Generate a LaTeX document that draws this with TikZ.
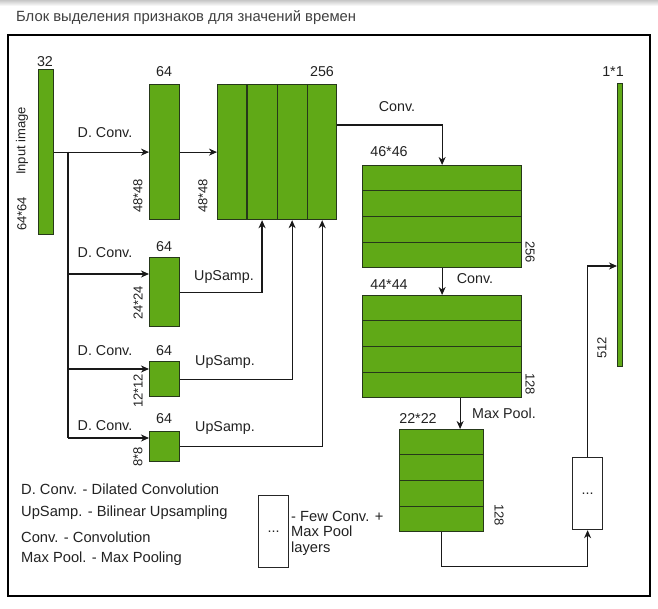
\documentclass[tikz,border=0pt]{standalone}
\usepackage{fontspec}
\setmainfont{Liberation Sans}
\usetikzlibrary{calc,arrows.meta}
\definecolor{gfill}{HTML}{60A917}
\definecolor{gline}{HTML}{26381A}
\definecolor{txt}{HTML}{222222}
\tikzset{
  blk/.style={draw=gline, fill=gfill, line width=1.2pt, inner sep=0pt, anchor=north west},
  dvd/.style={draw=gline, line width=1.2pt},
  lbl/.style={text=txt, inner sep=0pt, font=\fontsize{14.3}{16}\selectfont},
  leg/.style={lbl, font=\fontsize{14.7}{16}\selectfont},
  rlbl/.style={lbl, rotate=90, font=\fontsize{13}{15}\selectfont},
  clbl/.style={lbl, rotate=-90, font=\fontsize{13}{15}\selectfont},
  conn/.style={draw=black!90, line width=1.2pt},
  arr/.style={conn, -{Stealth[length=8pt,width=7pt,inset=2.5pt]}},
  wbox/.style={draw=black!85, fill=white, line width=1.2pt, inner sep=0pt, anchor=north west}
}
\begin{document}
\begin{tikzpicture}[x=1pt,y=-1pt]
\useasboundingbox (0,0) rectangle (658,608);
\fill[white] (0,0) rectangle (658,608);
\shade[top color=black!22, bottom color=white] (0,0) rectangle (658,6);
% title
\node[lbl, anchor=west, text=black!75, font=\fontsize{14.8}{16}\selectfont] (title) at (16,18) {Блок выделения признаков для значений времен};
% frame
\draw[line width=2pt] (8,35) rectangle (650,596);

% blocks
\node[blk, minimum width=15pt, minimum height=165pt] (inp) at (38,69) {};
\node[blk, minimum width=30pt, minimum height=135pt] (b64) at (149,84) {};
\node[blk, minimum width=119pt, minimum height=135pt] (b256) at (217,84) {};
\foreach \f in {0.25,0.5,0.75}
  \draw[dvd] ($(b256.north west)!\f!(b256.north east)$) -- ($(b256.south west)!\f!(b256.south east)$);
\node[blk, minimum width=30pt, minimum height=69pt] (b24) at (149,257) {};
\node[blk, minimum width=30pt, minimum height=35pt] (b12) at (149,361) {};
\node[blk, minimum width=30pt, minimum height=30pt] (b8) at (149,431) {};

\node[blk, minimum width=159pt, minimum height=102pt] (b46) at (362,165) {};
\foreach \f in {0.25,0.5,0.75}
  \draw[dvd] ($(b46.north west)!\f!(b46.south west)$) -- ($(b46.north east)!\f!(b46.south east)$);
\node[blk, minimum width=159pt, minimum height=102pt] (b44) at (362,295) {};
\foreach \f in {0.25,0.5,0.75}
  \draw[dvd] ($(b44.north west)!\f!(b44.south west)$) -- ($(b44.north east)!\f!(b44.south east)$);
\node[blk, minimum width=84pt, minimum height=102pt] (b22) at (399,429) {};
\foreach \f in {0.25,0.5,0.75}
  \draw[dvd] ($(b22.north west)!\f!(b22.south west)$) -- ($(b22.north east)!\f!(b22.south east)$);

\node[blk, minimum width=5pt, minimum height=283pt] (bar) at (617,83) {};
\node[wbox, minimum width=30pt, minimum height=72pt] (dots) at (572,457) {};
\node[lbl] at (dots.center) {...};

% connectors
\coordinate (br) at (68,151.5);
\coordinate (j2) at (68,274);
\coordinate (j3) at (68,369);
\coordinate (j4) at (68,438);
\draw[arr] (inp.east) -- (b64.west);
\draw[conn] (br) -- (j4);
\draw[arr] (j2) -- (j2 -| b24.west);
\draw[arr] (j3) -- (j3 -| b12.west);
\draw[arr] (j4) -- (j4 -| b8.west);
\draw[arr] (b64.east) -- (b256.west);
\coordinate (u1) at ($(b256.south west)!0.375!(b256.south east)$);
\coordinate (u2) at ($(b256.south west)!0.625!(b256.south east)$);
\coordinate (u3) at ($(b256.south west)!0.875!(b256.south east)$);
\draw[arr] (b24.east) -| (u1);
\draw[arr] (b12.east) -| (u2);
\draw[arr] (b8.east) -| (u3);
\coordinate (c1) at ($(b256.north east)+(0,41)$);
\draw[arr] (c1) -| (b46.north);
\draw[arr] (b46.south) -- (b44.north);
\coordinate (mp) at ($(b44.south)+(18,0)$);
\draw[arr] (mp) -- (mp |- b22.north);
\draw[arr] (b22.south) -- ++(0,34) -| (dots.south);
\coordinate (m1) at (617,266);
\draw[arr] (dots.north) |- (m1);

% labels
\node[lbl] (l32) at (45,62) {32};
\node[rlbl] (lin) at (22,141) {Input image};
\node[rlbl] (l6464) at (22,214) {64*64};
\node[lbl] (ld1) at (105,133) {D. Conv.};
\node[lbl] (l64a) at (164,72) {64};
\node[rlbl] (l48a) at (138,196) {48*48};
\node[lbl] (l256) at (322,72) {256};
\node[rlbl] (l48b) at (203,196) {48*48};
\node[lbl] (ld2) at (105,253) {D. Conv.};
\node[lbl] (l64b) at (164,247) {64};
\node[rlbl] (l24) at (138,303) {24*24};
\node[lbl] (lu1) at (224,277) {UpSamp.};
\node[lbl] (ld3) at (105,351) {D. Conv.};
\node[lbl] (l64c) at (164,351) {64};
\node[rlbl] (l12) at (138,391) {12*12};
\node[lbl] (lu2) at (225,362) {UpSamp.};
\node[lbl] (ld4) at (105,426) {D. Conv.};
\node[lbl] (l64d) at (164,419) {64};
\node[rlbl] (l8) at (138,457) {8*8};
\node[lbl] (lu3) at (225,428) {UpSamp.};
\node[lbl] (lc1) at (397,107) {Conv.};
\node[lbl] (l46) at (389,152) {46*46};
\node[clbl] (l256b) at (530,252) {256};
\node[lbl] (lc2) at (475,279) {Conv.};
\node[lbl] (l44) at (389,285) {44*44};
\node[clbl] (l128a) at (530,384) {128};
\node[lbl] (lmp) at (504,413) {Max Pool.};
\node[lbl] (l22) at (418,418) {22*22};
\node[clbl] (l128b) at (499,515) {128};
\node[lbl] (l11) at (613,72) {1*1};
\node[rlbl] (l512) at (602,348) {512};

% legend
\node[leg, anchor=west] (lg1) at (21,489) {D. Conv. - Dilated Convolution};
\node[leg, anchor=west] (lg2) at (21,513) {UpSamp. - Bilinear Upsampling};
\node[leg, anchor=west] (lg3) at (21,537) {Conv. - Convolution};
\node[leg, anchor=west] (lg4) at (21,559) {Max Pool. - Max Pooling};
\node[wbox, minimum width=30pt, minimum height=72pt] (lgbox) at (258,495) {};
\node[lbl] at (lgbox.center) {...};
\node[leg, anchor=west, align=left, font=\fontsize{14.7}{15.5}\selectfont] (lgtxt) at (291,533) {- Few Conv. +\\Max Pool\\layers};
\end{tikzpicture}
\end{document}
